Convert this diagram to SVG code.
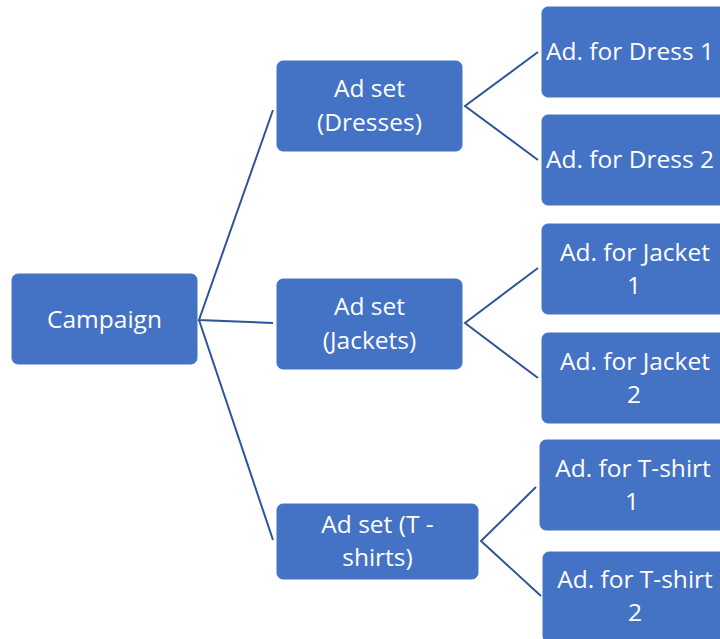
<svg xmlns="http://www.w3.org/2000/svg" width="720" height="639" viewBox="0 0 720 639">
<style>
.box{fill:#4472C4;stroke:#4472C4;stroke-width:1}
.t{font-family:"Open Sans","Noto Sans",sans-serif;font-size:24.5px;fill:#ffffff;text-anchor:middle}
.c{stroke:#2F5597;stroke-width:2;fill:none}
</style>
<rect width="720" height="639" fill="#ffffff"/>
<g id="connectors">
<polyline class="c" points="273,110 199,320 273,323"/>
<line class="c" x1="199" y1="320" x2="273" y2="540"/>
<polyline class="c" points="538,52 465,106 538,160"/>
<polyline class="c" points="538,268 465,323 538,378"/>
<polyline class="c" points="536,487 481,541 541,596"/>
</g>
<g id="campaign"><rect class="box" x="12" y="274" width="185" height="90" rx="6"/><text class="t" x="104.5" y="328">Campaign</text></g>
<g id="adset-dresses"><rect class="box" x="277" y="61" width="185" height="90" rx="6"/><text class="t" x="369.5" y="97">Ad set</text><text class="t" x="369.5" y="131">(Dresses)</text></g>
<g id="adset-jackets"><rect class="box" x="277" y="279" width="185" height="90" rx="6"/><text class="t" x="369.5" y="315">Ad set</text><text class="t" x="369.5" y="349">(Jackets)</text></g>
<g id="adset-tshirts"><rect class="box" x="277" y="504" width="201" height="75" rx="6"/><text class="t" x="377.5" y="533">Ad set (T -</text><text class="t" x="377.5" y="566">shirts)</text></g>
<g id="ad-dress1"><rect class="box" x="542" y="7" width="185" height="90" rx="6"/><text class="t" x="630" y="60">Ad. for Dress 1</text></g>
<g id="ad-dress2"><rect class="box" x="542" y="115" width="185" height="90" rx="6"/><text class="t" x="630" y="168">Ad. for Dress 2</text></g>
<g id="ad-jacket1"><rect class="box" x="542" y="224" width="185" height="90" rx="6"/><text class="t" x="635" y="261">Ad. for Jacket</text><text class="t" x="634" y="294">1</text></g>
<g id="ad-jacket2"><rect class="box" x="542" y="333" width="185" height="90" rx="6"/><text class="t" x="635" y="370">Ad. for Jacket</text><text class="t" x="634" y="403">2</text></g>
<g id="ad-tshirt1"><rect class="box" x="540" y="440" width="185" height="90" rx="6"/><text class="t" x="633" y="477">Ad. for T-shirt</text><text class="t" x="632" y="510">1</text></g>
<g id="ad-tshirt2"><rect class="box" x="543" y="552" width="185" height="90" rx="6"/><text class="t" x="635" y="588">Ad. for T-shirt</text><text class="t" x="635" y="621">2</text></g>
</svg>
